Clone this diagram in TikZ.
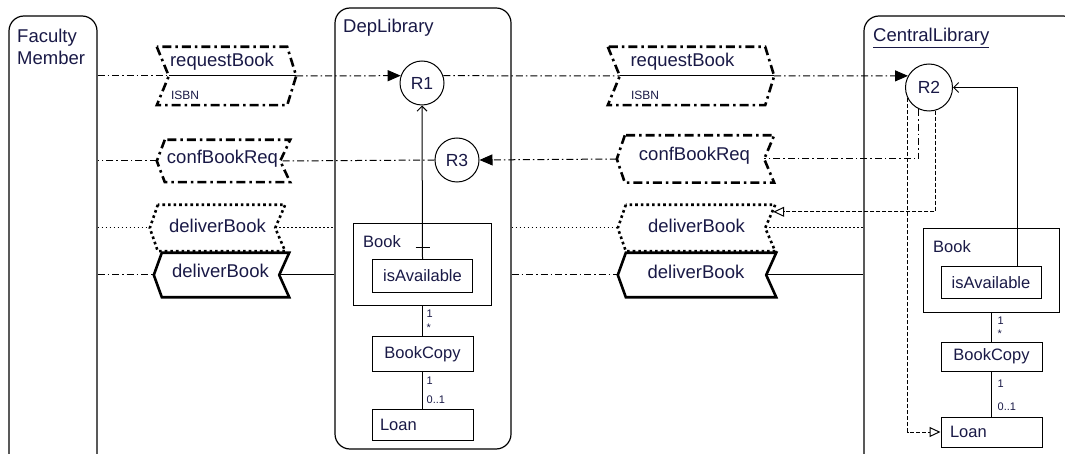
\documentclass[tikz,border=0pt]{standalone}
\usepackage{fontspec}
\setmainfont{Liberation Sans}
\usetikzlibrary{positioning}
\usetikzlibrary {arrows.meta}
\definecolor{inktext}{RGB}{25,25,70}
\tikzset{lane/.style={rectangle,draw=black,line width=1.2pt,rounded corners=15pt,inner sep=0pt}}
\tikzset{msgbox/.style={rectangle,draw=none,inner sep=0pt}}
\tikzset{msgedge/.style={line width=2.6pt,line join=miter}}
\tikzset{dashdotthick/.style={dash pattern=on 9pt off 4pt on 2.5pt off 4pt}}
\tikzset{dotthick/.style={dash pattern=on 2.6pt off 3pt}}
\tikzset{msgtext/.style={text=inktext,font=\fontsize{18.5}{21}\selectfont,inner sep=0pt}}
\tikzset{smalltext/.style={text=inktext,font=\fontsize{12}{14}\selectfont,inner sep=0pt}}
\tikzset{multtext/.style={text=inktext,font=\fontsize{11}{13}\selectfont,inner sep=0pt}}
\tikzset{titletext/.style={text=inktext,font=\fontsize{18.5}{21.5}\selectfont,inner sep=0pt}}
\tikzset{classtext/.style={text=inktext,font=\fontsize{16.5}{19}\selectfont,inner sep=0pt}}
\tikzset{rulenode/.style={circle,draw=black,line width=1pt,fill=white,minimum size=44pt,
inner sep=0pt,text=inktext,font=\fontsize{17.5}{20}\selectfont}}
\tikzset{classbox/.style={rectangle,draw=black,line width=1pt,fill=white,minimum width=101pt,
minimum height=33pt,inner sep=0pt,text=inktext,font=\fontsize{16.5}{19}\selectfont}}
\tikzset{flowdd/.style={line width=1pt,dash pattern=on 7pt off 3pt on 1.5pt off 3pt}}
\tikzset{flowdot/.style={line width=1pt,dash pattern=on 1.5pt off 2.5pt}}
\tikzset{flowdash/.style={line width=1pt,dash pattern=on 4pt off 2pt}}
\tikzset{flowsolid/.style={line width=1pt}}

\begin{document}
\begin{tikzpicture}[x=1pt,y=-1pt]
    \useasboundingbox (0,0) rectangle (1065,454);

    % swimlanes
    \node[lane,minimum width=88pt,minimum height=470pt] (faculty) at (53,251) {};
    \node[lane,minimum width=176pt,minimum height=441pt] (deplib) at (423,228.5) {};
    \node[lane,minimum width=214pt,minimum height=460pt] (centrallib) at (971,246) {};

    \node[titletext,anchor=north west,align=left] (facultyname) at (17,29) {Faculty\\Member};
    \node[titletext,anchor=base west] (deplibname) at (343,33) {DepLibrary};
    \node[titletext,anchor=base west] (centrallibname) at (873,42) {\underline{CentralLibrary}};

    % rules
    \node[rulenode] (r1) at (422,83) {R1};
    \node[rulenode] (r3) at (457,160) {R3};
    \node[rulenode,minimum size=47pt] (r2) at (929,87.5) {R2};

    % classes in DepLibrary
    \node[classbox,minimum width=138pt,minimum height=82pt] (bookA) at (422.5,264.5) {};
    \node[classtext,anchor=west] (bookAname) at ([xshift=10pt,yshift=-19pt]bookA.north west) {Book};
    \node[classbox,minimum width=100pt] (availA) at ([yshift=-11.5pt]bookA) {isAvailable};
    \node[classbox,minimum height=35pt] (copyA) [below=30pt of bookA] {BookCopy};
    \node[classbox,minimum height=31pt,text width=85pt,align=left] (loanA) [below=37pt of copyA] {Loan};

    % classes in CentralLibrary
    \node[classbox,minimum width=136pt,minimum height=83pt] (bookB) at (991.5,270.5) {};
    \node[classtext,anchor=west] (bookBname) at ([xshift=10pt,yshift=-18pt]bookB.north west) {Book};
    \node[classbox,minimum width=100pt,minimum height=32pt] (availB) at ([xshift=-0.5pt,yshift=-12pt]bookB) {isAvailable};
    \node[classbox,minimum height=29pt] (copyB) [below=29pt of bookB] {BookCopy};
    \node[classbox,minimum height=30pt,text width=83pt,align=left] (loanB) [below=45pt of copyB] {Loan};

    % multiplicities
    \node[multtext,anchor=west] (mA1) at ([xshift=4pt,yshift=-8pt]bookA.south) {1};
    \node[multtext,anchor=west] (mA2) at ([xshift=4pt,yshift=8pt]copyA.north) {*};
    \node[multtext,anchor=west] (mA3) at ([xshift=4pt,yshift=-9pt]copyA.south) {1};
    \node[multtext,anchor=west] (mA4) at ([xshift=4pt,yshift=9pt]loanA.north) {0..1};
    \node[multtext,anchor=west] (mB1) at ([xshift=6pt,yshift=-8pt]bookB.south) {1};
    \node[multtext,anchor=west] (mB2) at ([xshift=6pt,yshift=8pt]copyB.north) {*};
    \node[multtext,anchor=west] (mB3) at ([xshift=6pt,yshift=-12pt]copyB.south) {1};
    \node[multtext,anchor=west] (mB4) at ([xshift=6pt,yshift=10pt]loanB.north) {0..1};

    \draw[flowsolid] (bookA.south) -- (copyA.north);
    \draw[flowsolid] (copyA.south) -- (loanA.north);
    \draw[flowsolid] (bookB.south) -- (copyB.north);
    \draw[flowsolid] (copyB.south) -- (loanB.north);

    % messages
    \node[msgbox,minimum width=130pt,minimum height=58pt] (reqA) at (222,76) {};
    \node[msgbox,minimum width=157pt,minimum height=58pt] (reqB) at (686.5,76) {};
    \node[msgbox,minimum width=125pt,minimum height=42pt] (confA) at (227.5,161) {};
    \node[msgbox,minimum width=149pt,minimum height=47pt] (confB) at (699.5,159) {};
    \node[msgbox,minimum width=127pt,minimum height=46pt] (delA) at (221.5,228) {};
    \node[msgbox,minimum width=149pt,minimum height=46pt] (delB) at (700.5,228) {};
    \node[msgbox,minimum width=127pt,minimum height=44pt] (delC) at (225.5,275) {};
    \node[msgbox,minimum width=150pt,minimum height=44pt] (delD) at (701,275) {};

    \draw[msgedge,dashdotthick] (reqA.north west) -- ([xshift=12pt]reqA.west) -- (reqA.south west)
        -- (reqA.south east) -- ([xshift=9pt]reqA.east) -- (reqA.north east) -- cycle;
    \draw[flowsolid] ([xshift=12pt]reqA.west) -- ([xshift=9pt]reqA.east);
    \node[msgtext] (reqAtext) at ([yshift=14pt]reqA) {requestBook};
    \node[smalltext,anchor=west] (reqAisbn) at ([xshift=14pt,yshift=-19pt]reqA.west) {ISBN};

    \draw[msgedge,dashdotthick] (reqB.north west) -- ([xshift=12pt]reqB.west) -- (reqB.south west)
        -- (reqB.south east) -- ([xshift=9pt]reqB.east) -- (reqB.north east) -- cycle;
    \draw[flowsolid] ([xshift=12pt]reqB.west) -- ([xshift=9pt]reqB.east);
    \node[msgtext] (reqBtext) at ([xshift=-4pt,yshift=14pt]reqB) {requestBook};
    \node[smalltext,anchor=west] (reqBisbn) at ([xshift=23pt,yshift=-19pt]reqB.west) {ISBN};

    \draw[msgedge,dashdotthick] (confA.north west) -- ([xshift=-8pt]confA.west) -- (confA.south west)
        -- (confA.south east) -- ([xshift=-10pt]confA.east) -- (confA.north east) -- cycle;
    \node[msgtext] (confAtext) at ([xshift=-5pt,yshift=2pt]confA) {confBookReq};

    \draw[msgedge,dashdotthick] (confB.north west) -- ([xshift=-8pt]confB.west) -- (confB.south west)
        -- (confB.south east) -- ([xshift=-10pt]confB.east) -- (confB.north east) -- cycle;
    \node[msgtext] (confBtext) at ([xshift=-5pt,yshift=3pt]confB) {confBookReq};

    \draw[msgedge,dotthick] (delA.north west) -- ([xshift=-8pt]delA.west) -- (delA.south west)
        -- (delA.south east) -- ([xshift=-10pt]delA.east) -- (delA.north east) -- cycle;
    \node[msgtext] (delAtext) at ([xshift=-4pt,yshift=2pt]delA) {deliverBook};

    \draw[msgedge,dotthick] (delB.north west) -- ([xshift=-8pt]delB.west) -- (delB.south west)
        -- (delB.south east) -- ([xshift=-10pt]delB.east) -- (delB.north east) -- cycle;
    \node[msgtext] (delBtext) at ([xshift=-4pt,yshift=2pt]delB) {deliverBook};

    \draw[msgedge] (delC.north west) -- ([xshift=-8pt]delC.west) -- (delC.south west)
        -- (delC.south east) -- ([xshift=-10pt]delC.east) -- (delC.north east) -- cycle;
    \node[msgtext] (delCtext) at ([xshift=-5pt,yshift=4pt]delC) {deliverBook};

    \draw[msgedge] (delD.north west) -- ([xshift=-8pt]delD.west) -- (delD.south west)
        -- (delD.south east) -- ([xshift=-10pt]delD.east) -- (delD.north east) -- cycle;
    \node[msgtext] (delDtext) at ([xshift=-5pt,yshift=3pt]delD) {deliverBook};

    % flows, row by row
    \draw[flowdd] (faculty.east |- reqA.west) -- ([xshift=12pt]reqA.west);
    \draw[flowdd,-{Triangle[length=13pt,width=11pt]}] ([xshift=9pt]reqA.east) -- (r1.161);
    \draw[flowdd] (r1.19) -- ([xshift=12pt]reqB.west);
    \draw[flowdd,-{Triangle[length=13pt,width=11pt]}] ([xshift=9pt]reqB.east) -- (r2.151);

    \draw[flowdd,-{Triangle[length=13pt,width=11pt]}] ([xshift=-8pt]confB.west) -- (r3.east);
    \draw[flowdd] (r3.west) -- ([xshift=-10pt]confA.east);
    \draw[flowdd] ([xshift=-8pt]confA.west) -- (faculty.east |- confA.west);
    \draw[flowdd] (r2.245) |- ([xshift=-10pt]confB.east);

    \draw[flowdot] (faculty.east |- delA.west) -- ([xshift=-8pt]delA.west);
    \draw[flowdot] ([xshift=-10pt]delA.east) -- (deplib.west |- delA.east);
    \draw[flowdot] (deplib.east |- delB.west) -- ([xshift=-8pt]delB.west);
    \draw[flowdot] ([xshift=-10pt]delB.east) -- (centrallib.west |- delB.east);
    \draw[flowdash,-{Triangle[open,length=11pt,width=10pt]}] (r2.285) |- ([xshift=-2pt,yshift=-7pt]delB.north east);

    \draw[flowdd] (faculty.east |- delC.west) -- ([xshift=-8pt]delC.west);
    \draw[flowsolid] ([xshift=-10pt]delC.east) -- (deplib.west |- delC.east);
    \draw[flowdd] (deplib.east |- delD.west) -- ([xshift=-8pt]delD.west);
    \draw[flowsolid] ([xshift=-10pt]delD.east) -- (centrallib.west |- delD.east);

    % rule triggers
    \draw[flowsolid,-{Straight Barb[length=5pt,width=10pt]}] (availA.north) -- (r1.south);
    \draw[flowsolid] ([xshift=-7pt,yshift=11pt]availA.north) -- ([xshift=7pt,yshift=11pt]availA.north);
    \draw[flowsolid,-{Straight Barb[length=5pt,width=10pt]}] ([xshift=26pt]availB.north) |- (r2.east);
    \draw[flowdash,-{Triangle[open,length=11pt,width=10pt]}] (r2.207) |- (loanB.west);

\end{tikzpicture}
\end{document}
